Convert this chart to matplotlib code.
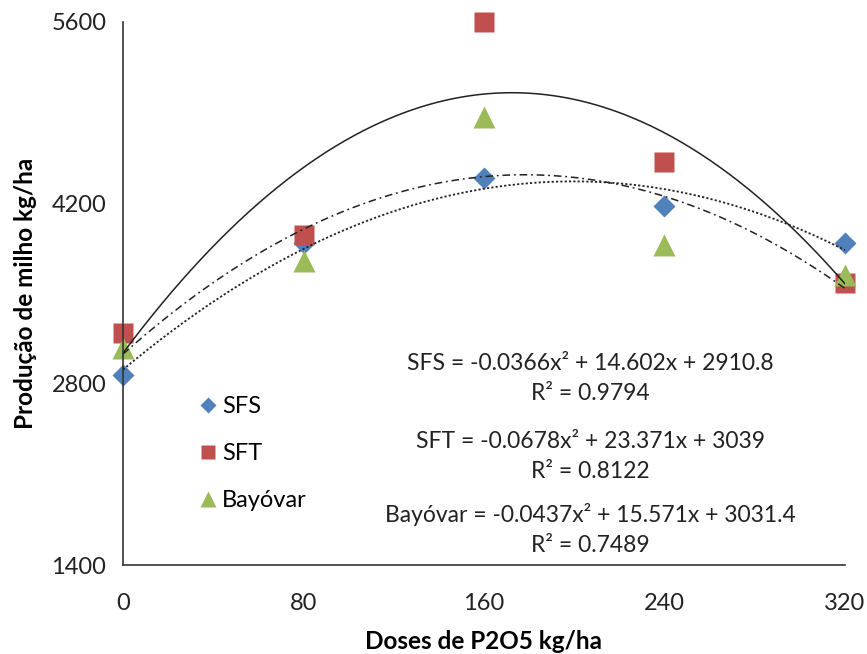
import numpy as np
import matplotlib
matplotlib.use("Agg")
import matplotlib.pyplot as plt

plt.rcParams['font.family'] = ['Lato', 'DejaVu Sans']

doses = [0, 80, 160, 240, 320]
sfs = [2870, 3890, 4390, 4180, 3890]
sft = [3195, 3955, 5600, 4520, 3580]
bayovar = [3080, 3750, 4865, 3875, 3645]

# trendline coefficients (a, b, c) as shown on chart
coef_sfs = (-0.0366, 14.602, 2910.8)
coef_sft = (-0.0678, 23.371, 3039.0)
coef_bay = (-0.0437, 15.571, 3031.4)

eq_labels = [
    ("SFS = -0.0366x² + 14.602x + 2910.8", "R² = 0.9794"),
    ("SFT = -0.0678x² + 23.371x + 3039", "R² = 0.8122"),
    ("Bayóvar = -0.0437x² + 15.571x + 3031.4", "R² = 0.7489"),
]

blue = '#4F81BD'
red = '#C0504D'
green = '#9BBB59'

fig = plt.figure(figsize=(8.67, 6.54), dpi=100)
ax = fig.add_axes([123/867, 1-565/654, (845-123)/867, (565-22)/654])

xs = np.linspace(0, 320, 300)
def quad(c, x):
    return c[0]*x**2 + c[1]*x + c[2]

ax.plot(xs, quad(coef_sft, xs), color='#222222', lw=1.1, ls='-', zorder=3)
ax.plot(xs, quad(coef_sfs, xs), color='#222222', lw=1.3, ls=(0, (1.2, 1.2)), zorder=3)
ax.plot(xs, quad(coef_bay, xs), color='#222222', lw=1.1, ls=(0, (5, 2.5, 1.2, 2.5)), zorder=3)

ax.plot(doses, sfs, 'D', color=blue, ms=11, mec='none', clip_on=False, zorder=2, label='SFS')
ax.plot(doses, sft, 's', color=red, ms=15, mec='none', clip_on=False, zorder=2, label='SFT')
ax.plot(doses, bayovar, '^', color=green, ms=16, mec='none', clip_on=False, zorder=2, label='Bayóvar')

ax.set_xlim(0, 320)
ax.set_ylim(1400, 5600)
ax.set_xticks([0, 80, 160, 240, 320])
ax.set_yticks([1400, 2800, 4200, 5600])
ax.tick_params(length=0, labelsize=17, colors='#222222', pad=12)
ax.tick_params(axis='x', pad=20)
for s in ['top', 'right']:
    ax.spines[s].set_visible(False)
for s in ['left', 'bottom']:
    ax.spines[s].set_color('#333333')
    ax.spines[s].set_linewidth(1.2)

ax.set_xlabel('Doses de P2O5 kg/ha', fontsize=17.5, fontweight='bold', labelpad=12)
ax.set_ylabel('Produção de milho kg/ha', fontsize=17.5, fontweight='bold', labelpad=10)

leg = ax.legend(loc='upper left', bbox_to_anchor=(0.072, 0.35), frameon=False,
                fontsize=17, handletextpad=0.1, labelspacing=1.1,
                markerscale=0.7, handlelength=1.0)

ys = [(363, 394), (442, 472), (514, 546)]
for (eq, r2), (y1, y2) in zip(eq_labels, ys):
    fig.text(590/867, 1-y1/654, eq, ha='center', va='center', fontsize=16.5, color='#222222')
    fig.text(590/867, 1-y2/654, r2, ha='center', va='center', fontsize=16.5, color='#222222')

fig.savefig('out.png', dpi=100)
